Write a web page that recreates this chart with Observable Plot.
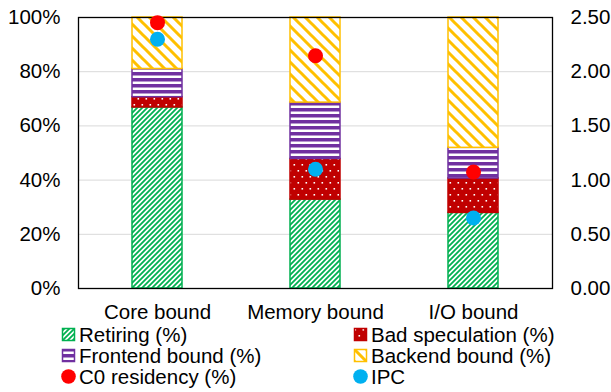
<!DOCTYPE html>
<html>
<head>
<meta charset="utf-8">
<script src="https://cdn.jsdelivr.net/npm/d3@7"></script>
<script src="https://cdn.jsdelivr.net/npm/@observablehq/plot@0.6"></script>
<style>
  body { margin: 0; background: #fff; }
  #chart { position: relative; width: 611px; height: 392px; overflow: hidden;
           font-family: "Liberation Sans", Arial, sans-serif; color: #000; }
  #chart svg text { font-size: 20.5px; font-family: "Liberation Sans", Arial, sans-serif; fill: #000; }
  .item { position: absolute; height: 21px; display: flex; align-items: center;
          font-size: 20.5px; line-height: 21px; white-space: nowrap; }
  .item svg { margin-right: 3px; flex: none; }
</style>
</head>
<body>
<!-- fill patterns shared by the bars and the legend swatches -->
<svg width="0" height="0" style="position:absolute">
  <defs>
    <pattern id="pat-retiring" patternUnits="userSpaceOnUse" width="5" height="5">
      <rect width="5" height="5" fill="#fff"/>
      <path d="M-1,1 L1,-1 M0,5 L5,0 M4,6 L6,4" stroke="#00B050" stroke-width="1.8"/>
    </pattern>
    <pattern id="pat-badspec" patternUnits="userSpaceOnUse" width="8" height="12">
      <rect width="8" height="12" fill="#C00000"/>
      <rect x="1.5" y="2" width="1.6" height="1.6" fill="#fff"/>
      <rect x="5.5" y="8" width="1.6" height="1.6" fill="#fff"/>
    </pattern>
    <pattern id="pat-frontend" patternUnits="userSpaceOnUse" width="6" height="6">
      <rect width="6" height="6" fill="#fff"/>
      <rect y="0" width="6" height="3.5" fill="#7030A0"/>
    </pattern>
    <pattern id="pat-backend" patternUnits="userSpaceOnUse" width="12" height="12">
      <rect width="12" height="12" fill="#fff"/>
      <path d="M-3,-3 L15,15 M-3,9 L3,15 M9,-3 L15,3" stroke="#FFC000" stroke-width="3"/>
    </pattern>
  </defs>
</svg>
<div id="chart"></div>
<script>
// Workload categories and the stacked top-down breakdown (% of slots)
const categories = ["Core bound", "Memory bound", "I/O bound"];
const retiring = [66.8, 32.8, 27.9];
const badSpeculation = [3.8, 15.0, 12.7];
const frontendBound = [10.4, 20.8, 11.3];
const backendBound = [19.0, 31.4, 48.1];

// Overlaid points: C0 residency (left axis, %) and IPC (right axis)
const c0Residency = [98.1, 85.9, 43.0];
const ipc = [2.30, 1.10, 0.65];

// Axis ticks
const pctTicks = [0, 20, 40, 60, 80, 100];
const ipcMax = 2.5;

const series = [
  {name: "Retiring (%)", values: retiring, id: "pat-retiring", color: "#00B050"},
  {name: "Bad speculation (%)", values: badSpeculation, id: "pat-badspec", color: "#C00000"},
  {name: "Frontend bound (%)", values: frontendBound, id: "pat-frontend", color: "#7030A0"},
  {name: "Backend bound (%)", values: backendBound, id: "pat-backend", color: "#FFC000"}
];

const table = [];
series.forEach(s => categories.forEach((c, i) => table.push({
  category: c, series: s.name, value: s.values[i], fill: `url(#${s.id})`, stroke: s.color
})));

const points = categories.map((c, i) => ({category: c, c0: c0Residency[i], ipc: ipc[i]}));

const plot = Plot.plot({
  width: 611,
  height: 322,
  marginLeft: 78,
  marginRight: 59,
  marginTop: 17,
  marginBottom: 34,
  style: {background: "transparent", overflow: "visible", fontSize: "20.5px",
          fontFamily: "'Liberation Sans', Arial, sans-serif", color: "#000"},
  x: {domain: categories, paddingInner: 0.684, paddingOuter: 0.342, label: null,
      tickSize: 0, tickPadding: 16},
  y: {domain: [0, 100], ticks: pctTicks, tickFormat: d => d + "%", label: null,
      tickSize: 0, tickPadding: 18},
  color: {type: "identity"},
  marks: [
    Plot.ruleY(pctTicks.filter(t => t > 0 && t < 100), {stroke: "#d9d9d9", strokeWidth: 1}),
    Plot.barY(table, {x: "category", y: "value", z: "series", fill: "fill", stroke: "stroke", strokeWidth: 1.5}),
    // secondary IPC axis on the right
    Plot.text(pctTicks, {y: d => d, text: d => (d / 100 * ipcMax).toFixed(2), frameAnchor: "right",
                         dx: 18, textAnchor: "start"}),
    Plot.frame({stroke: "#000", strokeWidth: 1.3}),
    Plot.dot(points, {x: "category", y: "c0", r: 7.5, fill: "#FF0000"}),
    Plot.dot(points, {x: "category", y: d => d.ipc / ipcMax * 100, r: 7.5, fill: "#00B0F0"})
  ]
});

const root = document.getElementById("chart");
root.appendChild(plot);

// Legend below the plot, two columns
const legendItems = [
  {label: "Retiring (%)", kind: "box", id: "pat-retiring", color: "#00B050", col: 0, row: 0},
  {label: "Bad speculation (%)", kind: "box", id: "pat-badspec", color: "#C00000", col: 1, row: 0},
  {label: "Frontend bound (%)", kind: "box", id: "pat-frontend", color: "#7030A0", col: 0, row: 1},
  {label: "Backend bound (%)", kind: "box", id: "pat-backend", color: "#FFC000", col: 1, row: 1},
  {label: "C0 residency (%)", kind: "dot", color: "#FF0000", col: 0, row: 2},
  {label: "IPC", kind: "dot", color: "#00B0F0", col: 1, row: 2}
];
const colX = [61, 353];
legendItems.forEach(it => {
  const div = document.createElement("div");
  div.className = "item";
  div.style.left = colX[it.col] + "px";
  div.style.top = (324 + it.row * 21) + "px";
  const sw = it.kind === "box"
    ? `<svg width="15" height="15"><rect x="1.5" y="1.5" width="12" height="12" fill="url(#${it.id})" stroke="${it.color}" stroke-width="1.5"/></svg>`
    : `<svg width="15" height="15"><circle cx="7.5" cy="7.5" r="7.3" fill="${it.color}"/></svg>`;
  div.innerHTML = sw + `<span>${it.label}</span>`;
  root.appendChild(div);
});
</script>
</body>
</html>
